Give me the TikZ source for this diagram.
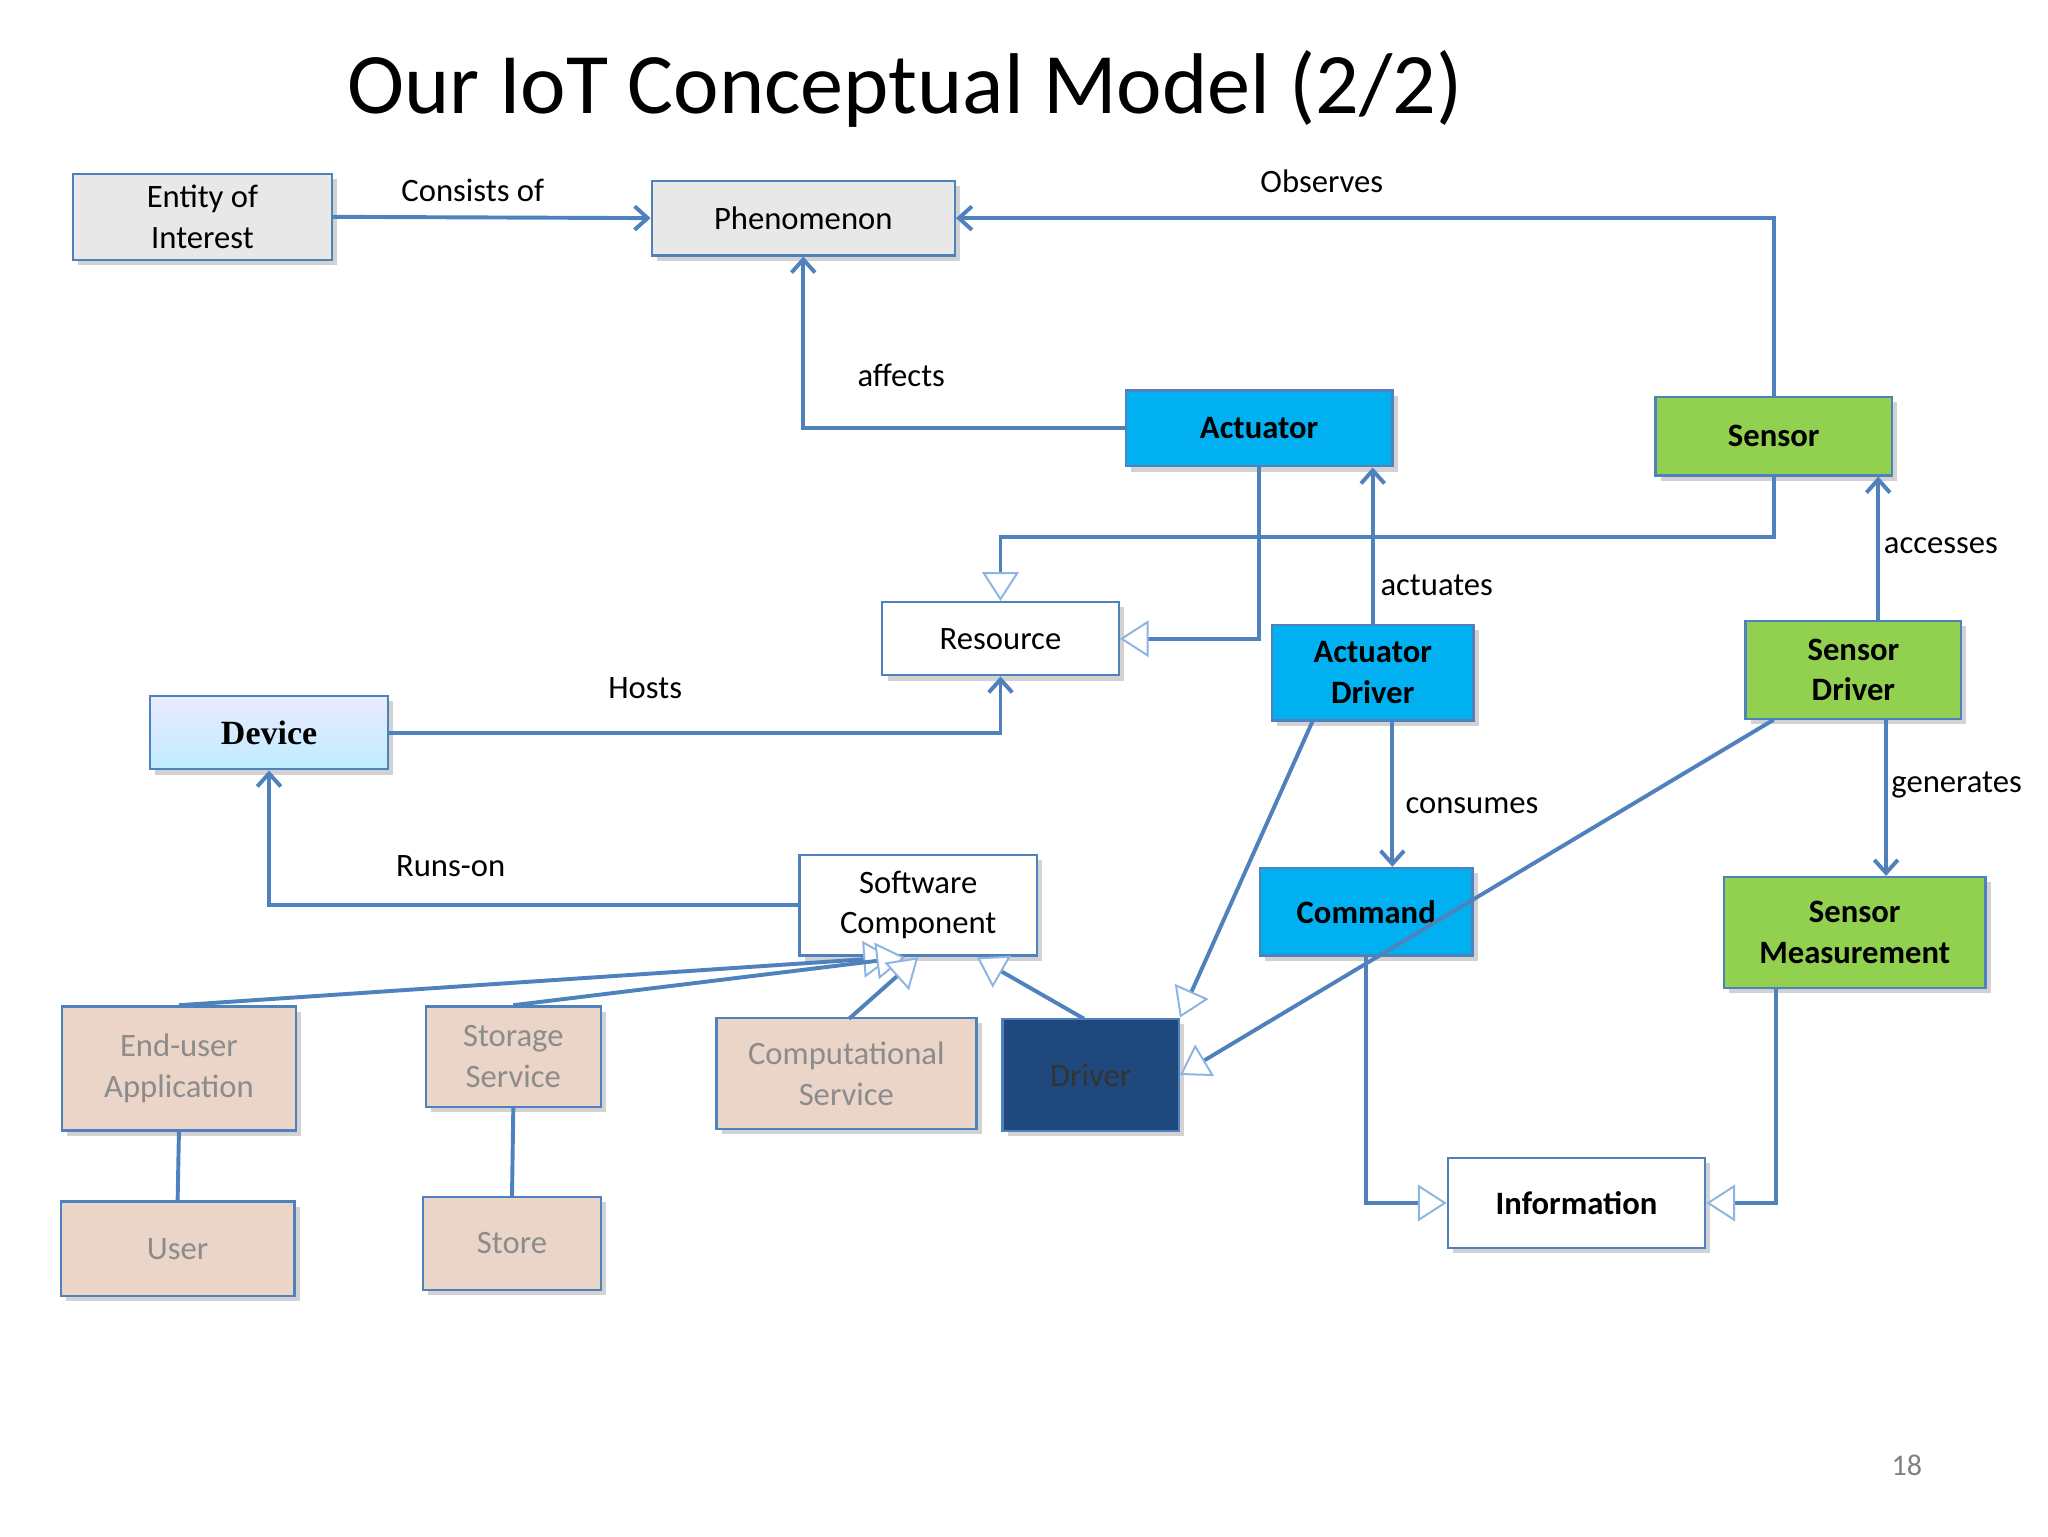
\documentclass[tikz,border=0pt]{standalone}
\usepackage{fontspec}
\setmainfont{Carlito}
\newfontfamily\serifb{Liberation Serif}
\usetikzlibrary{arrows.meta,shadows,calc}
\definecolor{ln}{HTML}{4F81BD}
\definecolor{tri}{HTML}{8DB4E2}
\definecolor{cy}{HTML}{00B0F0}
\definecolor{gr}{HTML}{92D050}
\definecolor{pk}{HTML}{EAD5C8}
\definecolor{nv}{HTML}{1F497D}
\tikzset{
 box/.style={draw=ln,line width=1.8pt,align=center,inner sep=0pt,font=\fontsize{25}{31}\selectfont,drop shadow={opacity=0.35,shadow xshift=4pt,shadow yshift=-4pt}},
 b/.style args={#1/#2}{box,minimum width=#1pt,minimum height=#2pt},
 bf/.style={font=\fontsize{25}{31}\selectfont\bfseries},
 con/.style={draw=ln,line width=3pt},
 arr/.style={con,-{Straight Barb[length=10pt,width=18pt,line width=3pt]}},
 gen/.style={con,-{Triangle[open,length=22pt,width=28pt,line width=1.5pt,color=tri,fill=white]}},
 lbl/.style={font=\fontsize{25}{30}\selectfont},
 pale/.style={text=black!45}
}
\begin{document}
\begin{tikzpicture}[x=1pt,y=-1pt]
\useasboundingbox[fill=white] (0,0) rectangle (1568,1176);
\node[font=\fontsize{66}{74}\selectfont] (title) at (693,68) {Our IoT Conceptual Model (2/2)};
\node[b=198/66,fill=black!9] (eoi) at (155,166) {Entity of\\Interest};
\node[b=232/57,fill=black!9] (phen) at (615,167) {Phenomenon};
\node[b=204/58,fill=cy,bf] (act) at (964,328) {Actuator};
\node[b=181/60,fill=gr,bf] (sen) at (1358,334) {Sensor};
\node[b=181/56,fill=white] (res) at (766,489) {Resource};
\node[b=154/73,fill=cy,bf] (ad) at (1051,515) {Actuator\\Driver};
\node[b=165/75,fill=gr,bf] (sd) at (1419,513) {Sensor\\Driver};
\node[b=182/56,top color=blue!8,bottom color=blue!30!cyan!25,font=\fontsize{26}{30}\serifb\bfseries] (dev) at (206,561) {Device};
\node[b=182/77,fill=white] (sw) at (703,693) {Software\\Component};
\node[b=163/67,fill=cy,bf] (cmd) at (1046,698) {Command};
\node[b=200/85,fill=gr,bf] (sm) at (1420,714) {Sensor\\Measurement};
\node[b=179/95,fill=pk,pale] (eu) at (137,818) {End-user\\Application};
\node[b=134/77,fill=pk,pale] (ss) at (393,809) {Storage\\Service};
\node[b=199/85,fill=pk,pale] (cs) at (648,822) {Computational\\Service};
\node[b=135/86,fill=nv,text=black!80] (drv) at (835,823) {Driver};
\node[b=179/72,fill=pk,pale] (user) at (136,956) {User};
\node[b=136/71,fill=pk,pale] (store) at (392,952) {Store};
\node[b=197/69,fill=white,bf] (info) at (1207,921) {Information};
\node[font=\fontsize{23}{26}\selectfont,text=black!50] (pg) at (1460,1122) {18};
% labels
\node[lbl] (l1) at (362,146) {Consists of};
\node[lbl] (l2) at (1012,139) {Observes};
\node[lbl] (l3) at (690,287) {affects};
\node[lbl] (l4) at (1100,448) {actuates};
\node[lbl] (l5) at (1486,418) {accesses};
\node[lbl] (l6) at (1127,617) {consumes};
\node[lbl] (l7) at (1498,601) {generates};
\node[lbl] (l8) at (494,527) {Hosts};
\node[lbl] (l9) at (345,663) {Runs-on};
% connectors
\draw[arr] (eoi.east) -- (phen.west);
\draw[arr] (sen.north) |- (phen.east);
\draw[arr] (act.west) -| (phen.south);
\draw[gen] (sen.south) |- (766,411) -- (res.north);
\draw[gen] (act.south) |- (res.east);
\draw[arr] (ad.north -| 1051,0) -- (act.south -| 1051,0);
\draw[arr] (sd.north -| 1438,0) -- (sen.south -| 1438,0);
\draw[arr] (ad.south -| 1066,0) -- (cmd.north -| 1066,0);
\draw[arr] (sd.south -| 1444,0) -- (sm.north -| 1444,0);
\draw[arr] (dev.east) -| (res.south);
\draw[arr] (sw.west) -| (dev.south);
\draw[gen] (eu.north) -- (683,733);
\draw[gen] (ss.north) -- (693,733);
\draw[gen] (650,780) -- (703,733);
\draw[gen] (830,780) -- (748,733);
\draw[gen] (1005,552) -- (drv.north east);
\draw[gen] (1358,551) -- (drv.east);
\draw[gen] (cmd.south) |- (info.west);
\draw[gen] (sm.south -| 1360,0) |- (info.east);
\draw[con] (eu.south) -- (user.north);
\draw[con] (ss.south) -- (store.north);
\end{tikzpicture}
\end{document}
